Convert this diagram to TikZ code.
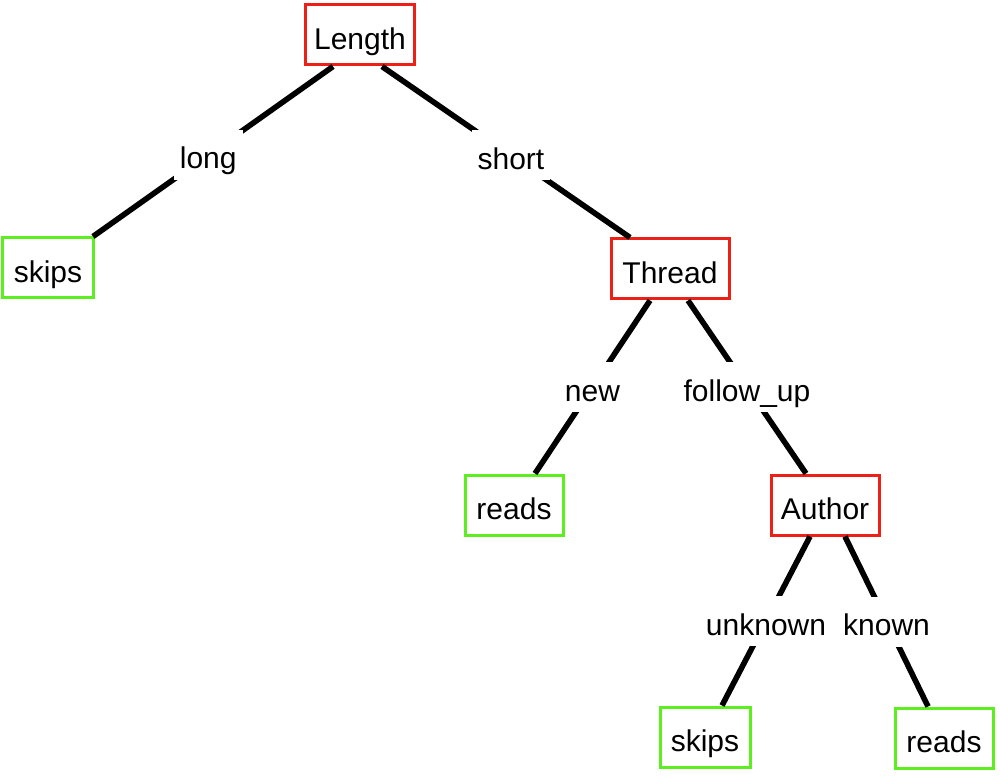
\documentclass[tikz,border=0pt]{standalone}
\usepackage{fontspec}
\setmainfont{Liberation Sans}
\usetikzlibrary{calc}
\definecolor{boxred}{RGB}{236,32,22}
\definecolor{boxgreen}{RGB}{92,238,30}
\tikzset{
  decision/.style={draw=boxred, line width=1.5pt, fill=white, minimum height=30pt,
    inner xsep=0pt, text height=15.2pt, text depth=1pt,
    font=\fontsize{15}{18}\selectfont},
  leaf/.style={draw=boxgreen, line width=1.5pt, fill=white, minimum height=30pt,
    inner xsep=0pt, text height=15.2pt, text depth=1pt,
    font=\fontsize{15}{18}\selectfont},
  edgelabel/.style={fill=white, inner xsep=3pt, inner ysep=5.5pt, text height=14pt,
    text depth=0pt, font=\fontsize{15}{18}\selectfont},
  branch/.style={line width=2.8pt, black}
}
\begin{document}
\begin{tikzpicture}[x=0.5pt,y=-0.5pt]
\useasboundingbox (0,0) rectangle (1000,780);
% nodes
\node[decision, minimum width=54.5pt] (len) at (360,35) {Length};
\node[leaf, minimum width=45.5pt] (skL) at (48,268) {skips};
\node[decision, minimum width=59pt] (thr) at (670,269) {Thread};
\node[leaf, minimum width=49pt] (rdM) at (514,505) {reads};
\node[decision, minimum width=54pt] (aut) at (825,505) {Author};
\node[leaf, minimum width=45pt] (skB) at (705,737) {skips};
\node[leaf, minimum width=49pt] (rdB) at (944,738) {reads};
% connectors
\draw[branch] ($(len.south)+(-27,0)$) -- node[edgelabel, pos=0.52] {long} ($(skL.north east)+(-2,0)$);
\draw[branch] ($(len.south)+(22,0)$) -- node[edgelabel, pos=0.52] {short} ($(thr.north)+(-40,0)$);
\draw[branch] ($(thr.south)+(-20,0)$) -- node[edgelabel, pos=0.5] {new} ($(rdM.north)+(21,0)$);
\draw[branch] ($(thr.south)+(18,0)$) -- node[edgelabel, pos=0.5] {follow\_up} ($(aut.north)+(-19,0)$);
\draw[branch] ($(aut.south)+(-15,0)$) -- node[edgelabel, pos=0.5] {unknown} ($(skB.north)+(17,0)$);
\draw[branch] ($(aut.south)+(20,0)$) -- node[edgelabel, pos=0.5] {known} ($(rdB.north)+(-16,0)$);
\end{tikzpicture}
\end{document}
